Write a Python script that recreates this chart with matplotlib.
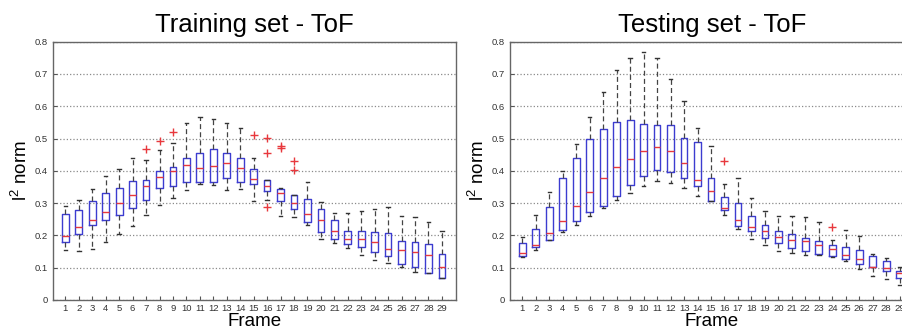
import matplotlib
matplotlib.use("Agg")
import matplotlib.pyplot as plt

plt.rcParams['font.family'] = ['Liberation Sans', 'DejaVu Sans']

frames = list(range(1, 30))

# Training set - ToF
train_whishi = [0.290, 0.311, 0.344, 0.383, 0.406, 0.439, 0.434, 0.464, 0.485, 0.548,
                0.566, 0.562, 0.547, 0.532, 0.440, 0.373, 0.346, 0.324, 0.365, 0.303,
                0.270, 0.270, 0.275, 0.282, 0.287, 0.261, 0.256, 0.241, 0.212]
train_q3 = [0.267, 0.279, 0.307, 0.330, 0.346, 0.367, 0.373, 0.398, 0.412, 0.440,
            0.454, 0.466, 0.456, 0.440, 0.406, 0.372, 0.345, 0.324, 0.313, 0.282,
            0.247, 0.214, 0.213, 0.210, 0.208, 0.184, 0.179, 0.174, 0.142]
train_med = [0.199, 0.225, 0.249, 0.271, 0.300, 0.324, 0.353, 0.380, 0.399, 0.418,
             0.409, 0.416, 0.423, 0.409, 0.375, 0.353, 0.332, 0.300, 0.267, 0.248,
             0.213, 0.189, 0.189, 0.178, 0.159, 0.156, 0.149, 0.140, 0.101]
train_q1 = [0.180, 0.205, 0.231, 0.246, 0.262, 0.285, 0.310, 0.346, 0.353, 0.365,
            0.366, 0.366, 0.377, 0.366, 0.360, 0.338, 0.305, 0.282, 0.242, 0.209,
            0.190, 0.174, 0.164, 0.149, 0.136, 0.110, 0.103, 0.084, 0.067]
train_whislo = [0.156, 0.153, 0.158, 0.180, 0.205, 0.229, 0.262, 0.293, 0.317, 0.340,
                0.360, 0.355, 0.339, 0.344, 0.307, 0.309, 0.261, 0.256, 0.233, 0.189,
                0.175, 0.160, 0.140, 0.125, 0.115, 0.101, 0.087, 0.084, 0.067]
train_fliers = {7: [0.466], 8: [0.492], 9: [0.521], 15: [0.510],
                16: [0.501, 0.455, 0.288], 17: [0.478, 0.470], 18: [0.430, 0.402]}

# Testing set - ToF
test_whishi = [0.194, 0.262, 0.335, 0.399, 0.484, 0.568, 0.643, 0.712, 0.750, 0.767,
               0.748, 0.685, 0.615, 0.533, 0.477, 0.360, 0.379, 0.315, 0.275, 0.259,
               0.261, 0.257, 0.241, 0.185, 0.216, 0.199, 0.142, 0.130, 0.102]
test_q3 = [0.175, 0.219, 0.287, 0.377, 0.441, 0.500, 0.528, 0.550, 0.556, 0.545,
           0.541, 0.541, 0.503, 0.490, 0.377, 0.318, 0.299, 0.261, 0.232, 0.215,
           0.205, 0.191, 0.183, 0.171, 0.165, 0.156, 0.136, 0.119, 0.090]
test_med = [0.146, 0.169, 0.208, 0.245, 0.291, 0.335, 0.377, 0.411, 0.436, 0.462,
            0.475, 0.460, 0.425, 0.373, 0.337, 0.285, 0.248, 0.227, 0.214, 0.196,
            0.185, 0.181, 0.171, 0.158, 0.140, 0.127, 0.102, 0.098, 0.083]
test_q1 = [0.136, 0.165, 0.187, 0.217, 0.243, 0.271, 0.291, 0.322, 0.357, 0.385,
           0.402, 0.397, 0.378, 0.354, 0.307, 0.277, 0.228, 0.213, 0.193, 0.177,
           0.162, 0.150, 0.143, 0.136, 0.128, 0.112, 0.102, 0.090, 0.069]
test_whislo = [0.132, 0.154, 0.187, 0.210, 0.233, 0.259, 0.284, 0.308, 0.330, 0.352,
               0.369, 0.361, 0.348, 0.323, 0.306, 0.263, 0.220, 0.189, 0.171, 0.153,
               0.146, 0.140, 0.139, 0.133, 0.121, 0.097, 0.073, 0.066, 0.047]
test_fliers = {16: [0.429], 24: [0.225]}

yticks = [0, 0.1, 0.2, 0.3, 0.4, 0.5, 0.6, 0.7, 0.8]
ytick_labels = ['0', '0.1', '0.2', '0.3', '0.4', '0.5', '0.6', '0.7', '0.8']


def make_stats(whishi, q3, med, q1, whislo, fliers):
    stats = []
    for i, f in enumerate(frames):
        stats.append(dict(med=med[i], q1=q1[i], q3=q3[i], whislo=whislo[i],
                          whishi=whishi[i], fliers=fliers.get(f, [])))
    return stats


def draw(ax, stats, title):
    ax.bxp(stats, positions=frames, widths=0.5, capwidths=0.25,
           boxprops=dict(color='#3c3cd0', linewidth=1.0),
           medianprops=dict(color='#e8383d', linewidth=1.0),
           whiskerprops=dict(color='#444444', linewidth=0.9, linestyle=(0, (4, 2.5))),
           capprops=dict(color='#333333', linewidth=1.0),
           flierprops=dict(marker='+', markeredgecolor='#e8383d', markersize=6,
                           markeredgewidth=1.0, linestyle='none'))
    ax.set_ylim(0, 0.8)
    ax.set_xlim(0.1, 30.05)
    ax.set_yticks(yticks)
    ax.set_yticklabels(ytick_labels)
    ax.set_xticks(frames)
    ax.set_xticklabels([str(f) for f in frames])
    ax.tick_params(direction='in', length=3, labelsize=6.8, labelcolor='#333333',
                   color='#555555')
    ax.tick_params(axis='x', pad=3)
    ax.tick_params(axis='y', pad=4)
    ax.yaxis.grid(True, linestyle=':', color='#8a8a8a', linewidth=0.9)
    ax.set_axisbelow(True)
    for s in ax.spines.values():
        s.set_color('#666666')
        s.set_linewidth(1.0)
    ax.set_title(title, fontsize=18.5, pad=7)
    ax.set_xlabel('Frame', fontsize=13.5, va='top')
    ax.set_ylabel(r'l$^\mathregular{2}$ norm', fontsize=13.5)
    ax.xaxis.set_label_coords(0.5, -0.052)
    ax.yaxis.set_label_coords(-0.055, 0.5)


fig = plt.figure(figsize=(9.03, 3.31), dpi=100)
ax1 = fig.add_axes([0.059, 0.094, 0.446, 0.780])
ax2 = fig.add_axes([0.565, 0.094, 0.447, 0.780])

draw(ax1, make_stats(train_whishi, train_q3, train_med, train_q1, train_whislo, train_fliers),
     'Training set - ToF')
draw(ax2, make_stats(test_whishi, test_q3, test_med, test_q1, test_whislo, test_fliers),
     'Testing set - ToF')

fig.savefig('out.png', dpi=100)
